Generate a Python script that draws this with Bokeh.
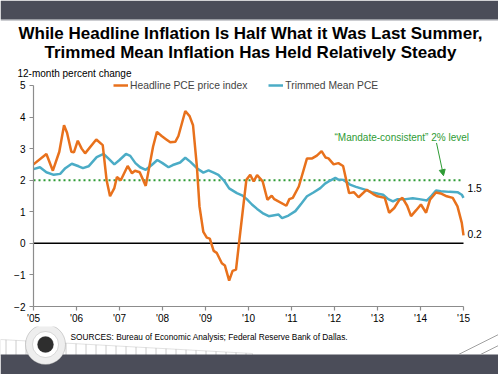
from bokeh.plotting import figure
from bokeh.layouts import column, row
from bokeh.models import (Range1d, FixedTicker, Label, BoxAnnotation, Arrow, NormalHead,
                          Legend, LegendItem, PolyAnnotation)
from bokeh.embed import file_html
from bokeh.resources import INLINE

# ---------------- data ----------------
headline_x = [2005.00, 2005.30, 2005.45, 2005.60, 2005.71, 2005.78, 2005.88, 2005.94, 2006.03, 2006.12,
              2006.20, 2006.46, 2006.61, 2006.70, 2006.78, 2006.88, 2006.94, 2007.03, 2007.19, 2007.29,
              2007.36, 2007.47, 2007.61, 2007.78, 2007.87, 2007.98, 2008.08, 2008.18, 2008.30, 2008.37,
              2008.53, 2008.63, 2008.71, 2008.80, 2008.86, 2008.95, 2009.03, 2009.10, 2009.19, 2009.26,
              2009.38, 2009.45, 2009.55, 2009.63, 2009.71, 2009.79, 2009.95, 2010.04, 2010.12, 2010.20,
              2010.33, 2010.44, 2010.54, 2010.60, 2010.88, 2010.95, 2011.03, 2011.17, 2011.36, 2011.48,
              2011.59, 2011.70, 2011.79, 2011.86, 2011.98, 2012.09, 2012.20, 2012.34, 2012.45, 2012.56,
              2012.75, 2012.90, 2013.00, 2013.17, 2013.27, 2013.39, 2013.51, 2013.58, 2013.69, 2013.78,
              2013.90, 2014.01, 2014.13, 2014.22, 2014.36, 2014.47, 2014.61, 2014.75, 2014.86, 2014.96,
              2015.00]
headline_y = [2.50, 2.83, 2.30, 2.90, 3.74, 3.50, 2.90, 2.88, 3.25, 3.00,
              2.85, 3.29, 3.11, 2.00, 1.49, 1.75, 2.10, 2.00, 2.45, 2.22,
              2.30, 2.25, 1.82, 3.06, 3.53, 3.40, 3.30, 3.20, 3.22, 3.40,
              4.19, 4.03, 3.74, 2.43, 1.17, 0.36, 0.18, 0.15, -0.24, -0.30,
              -0.63, -0.70, -1.18, -0.87, -0.83, 0.13, 2.01, 2.17, 1.96, 2.16,
              1.96, 1.38, 1.51, 1.40, 1.19, 1.40, 1.44, 1.80, 2.69, 2.69,
              2.78, 2.92, 2.72, 2.69, 2.50, 2.54, 2.45, 1.59, 1.62, 1.46,
              1.70, 1.56, 1.49, 1.44, 0.97, 1.12, 1.38, 1.44, 1.19, 0.86,
              1.05, 1.23, 0.97, 1.38, 1.61, 1.58, 1.49, 1.44, 1.17, 0.65,
              0.25]

trimmed_x = [2005.00, 2005.15, 2005.30, 2005.47, 2005.62, 2005.74, 2005.89, 2006.05, 2006.15, 2006.28,
             2006.47, 2006.63, 2006.74, 2006.88, 2007.00, 2007.15, 2007.25, 2007.37, 2007.48, 2007.61,
             2007.75, 2007.88, 2008.00, 2008.14, 2008.24, 2008.41, 2008.53, 2008.65, 2008.80, 2008.95,
             2009.07, 2009.19, 2009.30, 2009.43, 2009.55, 2009.73, 2009.85, 2009.96, 2010.08, 2010.20,
             2010.35, 2010.47, 2010.70, 2010.78, 2010.93, 2011.09, 2011.24, 2011.36, 2011.51, 2011.67,
             2011.78, 2011.90, 2012.02, 2012.09, 2012.21, 2012.36, 2012.50, 2012.71, 2012.86, 2013.02,
             2013.13, 2013.25, 2013.36, 2013.47, 2013.66, 2013.82, 2013.97, 2014.15, 2014.26, 2014.36,
             2014.47, 2014.67, 2014.86, 2014.96, 2015.00]
trimmed_y = [2.35, 2.41, 2.25, 2.17, 2.20, 2.38, 2.52, 2.44, 2.38, 2.44,
             2.73, 2.83, 2.69, 2.50, 2.64, 2.83, 2.77, 2.54, 2.41, 2.33,
             2.48, 2.64, 2.54, 2.41, 2.48, 2.56, 2.71, 2.58, 2.38, 2.24,
             2.31, 2.24, 2.17, 1.99, 1.74, 1.59, 1.52, 1.40, 1.23, 1.09,
             0.94, 0.86, 0.91, 0.80, 0.88, 1.02, 1.28, 1.49, 1.61, 1.75,
             1.89, 1.99, 2.07, 2.02, 2.01, 1.86, 1.79, 1.70, 1.62, 1.57,
             1.54, 1.40, 1.33, 1.40, 1.40, 1.43, 1.40, 1.36, 1.51, 1.67,
             1.65, 1.63, 1.62, 1.54, 1.44]

year_ticks = list(range(2005, 2016))
year_labels = ["'05", "'06", "'07", "'08", "'09", "'10", "'11", "'12", "'13", "'14", "'15"]
value_ticks = list(range(-2, 6))
zero_level = 0.0
mandate_level = 2.0
end_labels = ["1.5", "0.2"]

title_lines = ["While Headline Inflation Is Half What it Was Last Summer,",
               "Trimmed Mean Inflation Has Held Relatively Steady"]
y_title = "12-month percent change"
series_names = ["Headline PCE price index", "Trimmed Mean PCE"]
mandate_text = "\u201cMandate-consistent\u201d 2% level"
source_text = "SOURCES: Bureau of Economic Analysis; Federal Reserve Bank of Dallas."

# ---------------- style / layout ----------------
ORANGE = "#e8711c"
BLUE = "#4bacc6"
GREEN = "#2e9b35"
BAND = "#4b4d59"
AXIS = "#8c8c8c"
FONT = "Liberation Sans"

W = 498
TOP_H, MAIN_H, BOT_H = 80, 246, 48          # 80 + 246 + 48 = 374
MAIN_TOP = TOP_H
FRAME_L = 33
FRAME_BOTTOM_PX = 308                        # page y of the x axis
BORDER_B = MAIN_TOP + MAIN_H - FRAME_BOTTOM_PX
FRAME_H = MAIN_H - BORDER_B
FRAME_W = W - FRAME_L
PX_PER_YEAR = 43.0
PX_PER_UNIT = 223.0 / 7.0
X0, Y0 = 2005, -2
X1 = X0 + FRAME_W / PX_PER_YEAR
Y1 = Y0 + FRAME_H / PX_PER_UNIT


def dx(px):
    return X0 + (px - FRAME_L) / PX_PER_YEAR


def dy(py):
    return Y0 + (FRAME_BOTTOM_PX - py) / PX_PER_UNIT


def canvas_fig(h, y_top):
    f = figure(width=W, height=h, x_range=Range1d(0, W), y_range=Range1d(y_top + h, y_top),
               x_axis_type=None, y_axis_type=None, output_backend="svg", toolbar_location=None,
               min_border=0, min_border_left=0, min_border_right=0, min_border_top=0,
               min_border_bottom=0)
    f.outline_line_color = None
    f.background_fill_color = "white"
    f.border_fill_color = "white"
    return f


# ---------------- top: header band + title ----------------
top = canvas_fig(TOP_H, 0)
top.add_layout(BoxAnnotation(left=0, right=W, top=0, bottom=18.5,
                             fill_color=BAND, fill_alpha=1, line_color=None))
top.add_layout(BoxAnnotation(left=0, right=W, top=18.5, bottom=20,
                             fill_color="#9a9ca3", fill_alpha=1, line_color=None))
for txt, yy in zip(title_lines, [32.5, 52]):
    top.add_layout(Label(x=250, y=yy, text=txt, text_align="center", text_baseline="middle",
                         text_font=FONT, text_font_style="bold", text_font_size="17px",
                         text_color="black"))
top.add_layout(Label(x=17, y=73, text=y_title, text_align="left", text_baseline="middle",
                     text_font=FONT, text_font_size="10px", text_color="black"))

# ---------------- main chart ----------------
p = figure(width=W, height=MAIN_H, x_range=Range1d(X0, X1), y_range=Range1d(Y0, Y1),
           output_backend="svg", toolbar_location=None,
           min_border_left=FRAME_L, min_border_right=0, min_border_top=0,
           min_border_bottom=BORDER_B)
p.grid.visible = False
p.outline_line_color = None
p.background_fill_color = "white"
p.border_fill_color = "white"

for ax in (p.xaxis[0], p.yaxis[0]):
    ax.axis_line_color = AXIS
    ax.axis_line_width = 1.2
    ax.major_tick_line_color = AXIS
    ax.major_tick_line_width = 1.2
    ax.minor_tick_line_color = None
    ax.major_tick_in = 0
    ax.major_tick_out = 4
    ax.major_label_text_font = FONT
    ax.major_label_text_font_size = "10px"
    ax.major_label_text_color = "black"

p.xaxis.ticker = FixedTicker(ticks=year_ticks)
p.xaxis.major_label_overrides = dict(zip(year_ticks, year_labels))
p.xaxis.major_label_standoff = 2
p.xaxis.bounds = (year_ticks[0], year_ticks[-1])
p.yaxis.ticker = FixedTicker(ticks=value_ticks)
p.yaxis.major_label_standoff = 4
p.yaxis.bounds = (value_ticks[0], value_ticks[-1])

span_x = [year_ticks[0], year_ticks[-1]]
p.line(span_x, [zero_level, zero_level], line_color="black", line_width=1.5)
p.line(span_x, [mandate_level, mandate_level], line_color=GREEN, line_width=2, line_dash="2 3")

r_trim = p.line(trimmed_x, trimmed_y, line_color=BLUE, line_width=2.5)
r_head = p.line(headline_x, headline_y, line_color=ORANGE, line_width=2.5)

legend = Legend(items=[LegendItem(label=series_names[0], renderers=[r_head]),
                       LegendItem(label=series_names[1], renderers=[r_trim])],
                orientation="horizontal", location=(80, 215),
                border_line_color=None, background_fill_alpha=0,
                padding=0, margin=0, spacing=21, glyph_width=15, glyph_height=12,
                label_height=12, label_standoff=2,
                label_text_font=FONT, label_text_font_size="10.3px")
p.add_layout(legend)

for txt, py in zip(end_labels, [188, 235]):
    p.add_layout(Label(x=dx(467), y=dy(py), text=txt, text_align="left", text_baseline="middle",
                       text_font=FONT, text_font_size="10.3px", text_color="black"))
p.add_layout(Label(x=dx(334), y=dy(137), text=mandate_text, text_align="left",
                   text_baseline="middle", text_font=FONT, text_font_size="10px",
                   text_color=GREEN))
p.add_layout(Arrow(x_start=dx(436), y_start=dy(143), x_end=dx(443), y_end=dy(176),
                   line_color=GREEN, line_width=1,
                   end=NormalHead(size=6, fill_color=GREEN, line_color=GREEN)))

# ---------------- bottom: sources, seal, footer band ----------------
bot = canvas_fig(BOT_H, MAIN_TOP + MAIN_H)
bot.add_layout(PolyAnnotation(xs=[0, 252, 252, 0], ys=[339, 353, 355, 355],
                              fill_color="white", fill_alpha=1, line_color="#a0a0a0", line_width=1,
                              hatch_pattern="vertical_line", hatch_color="#cccccc",
                              hatch_scale=10, hatch_weight=1))
bot.add_layout(BoxAnnotation(left=0, right=W, top=354, bottom=374,
                             fill_color=BAND, fill_alpha=1, line_color=None))
bot.add_layout(Arrow(x_start=458, y_start=354, x_end=498, y_end=334,
                     line_color="#a0a0a0", line_width=1, end=None))
bot.add_layout(Arrow(x_start=480, y_start=354, x_end=498, y_end=345,
                     line_color="#a0a0a0", line_width=1, end=None))
# seal: concentric rounded boxes (circles)
for rad, fc, lc in [(20, "#eeeeee", "#777777"), (13, "#ffffff", "#8a8a8a"),
                    (8, "#2e2e2e", "#2e2e2e")]:
    bot.add_layout(BoxAnnotation(left=45 - rad, right=45 + rad, top=344 - rad, bottom=344 + rad,
                                 border_radius=rad, fill_color=fc, fill_alpha=1,
                                 line_color=lc, line_width=1))
bot.add_layout(Label(x=70, y=336.5, text=source_text, text_align="left", text_baseline="middle",
                     text_font=FONT, text_font_size="8.3px", text_color="black"))

layout = column(row(top), row(p), row(bot), spacing=0)
open("out.html", "w").write(file_html(layout, INLINE))
